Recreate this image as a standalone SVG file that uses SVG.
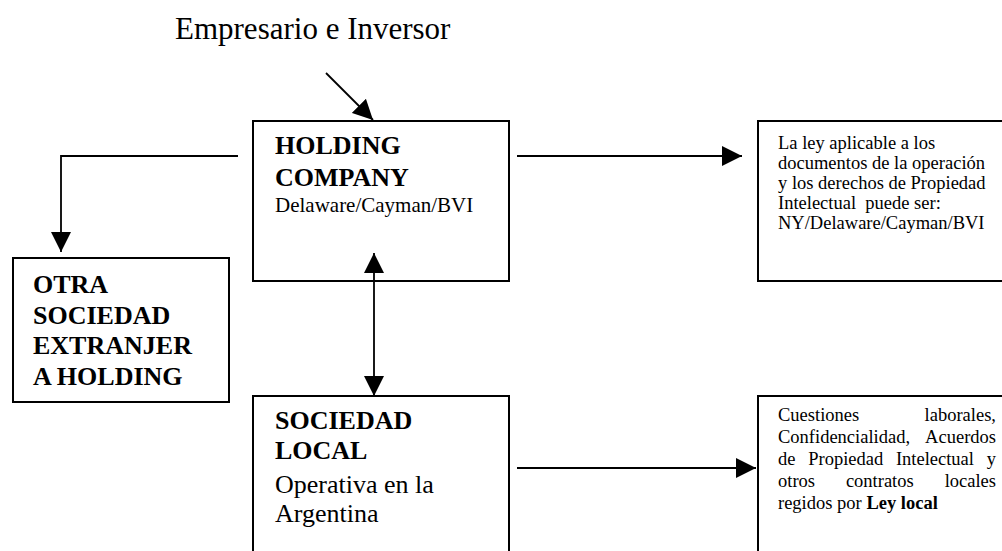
<svg xmlns="http://www.w3.org/2000/svg" width="1002" height="551" viewBox="0 0 1002 551">
<defs>
<style>
text{font-family:"Liberation Serif","Times New Roman",serif;fill:#000}
.box{fill:#fff;stroke:#000;stroke-width:2}
.b{font-weight:bold;font-size:26px}
.r{font-size:21px}
.r26{font-size:26px}
.s{font-size:18.5px}
.line{fill:none;stroke:#000;stroke-width:1.8}
</style>
<marker id="ah" viewBox="0 0 20 20" refX="20" refY="10" markerWidth="20" markerHeight="20" markerUnits="userSpaceOnUse" orient="auto-start-reverse">
<path d="M0,0 L20,10 L0,20 Z" fill="#000"/>
</marker>
</defs>
<rect width="1002" height="551" fill="#fff"/>
<text x="175" y="39" style="font-size:31px">Empresario e Inversor</text>
<g id="holding">
<rect class="box" x="253" y="121" width="256" height="160"/>
<text class="b" x="275" y="154">HOLDING</text>
<text class="b" x="275" y="186">COMPANY</text>
<text class="r" x="275" y="212">Delaware/Cayman/BVI</text>
</g>
<g id="otra">
<rect class="box" x="13" y="258" width="216" height="144"/>
<text class="b" x="33" y="293">OTRA</text>
<text class="b" x="33" y="323.5">SOCIEDAD</text>
<text class="b" x="33" y="354">EXTRANJER</text>
<text class="b" x="33" y="384.5">A HOLDING</text>
</g>
<g id="ley-aplicable">
<rect class="box" x="758" y="121" width="260" height="160"/>
<text class="s" x="778" y="149">La ley aplicable a los</text>
<text class="s" x="778" y="169">documentos de la operación</text>
<text class="s" x="778" y="189">y los derechos de Propiedad</text>
<text class="s" x="778" y="209" xml:space="preserve">Intelectual  puede ser:</text>
<text class="s" x="778" y="229">NY/Delaware/Cayman/BVI</text>
</g>
<g id="sociedad-local">
<rect class="box" x="253" y="396" width="256" height="170"/>
<text class="b" x="275" y="429">SOCIEDAD</text>
<text class="b" x="275" y="459">LOCAL</text>
<text class="r26" x="275" y="493">Operativa en la</text>
<text class="r26" x="275" y="522">Argentina</text>
</g>
<g id="ley-local">
<rect class="box" x="758" y="396" width="260" height="170"/>
<text class="s" x="778" y="421">Cuestiones</text>
<text class="s" x="996" y="421" text-anchor="end">laborales,</text>
<text class="s" x="778" y="443">Confidencialidad,</text>
<text class="s" x="996" y="443" text-anchor="end">Acuerdos</text>
<text class="s" x="778" y="465">de</text>
<text class="s" x="808.2" y="465">Propiedad</text>
<text class="s" x="895.9" y="465">Intelectual</text>
<text class="s" x="996" y="465" text-anchor="end">y</text>
<text class="s" x="778" y="487">otros</text>
<text class="s" x="845.9" y="487">contratos</text>
<text class="s" x="996" y="487" text-anchor="end">locales</text>
<text class="s" x="778" y="509">regidos por <tspan font-weight="bold">Ley local</tspan></text>
</g>
<g id="connectors">
<line class="line" x1="326" y1="73" x2="373" y2="120" marker-end="url(#ah)"/>
<polyline class="line" points="238,156 61,156 61,252" marker-end="url(#ah)"/>
<line class="line" x1="517" y1="156" x2="742" y2="156" marker-end="url(#ah)"/>
<line class="line" x1="374" y1="253" x2="374" y2="396" marker-start="url(#ah)" marker-end="url(#ah)"/>
<line class="line" x1="517" y1="468" x2="756" y2="468" marker-end="url(#ah)"/>
</g>
</svg>
